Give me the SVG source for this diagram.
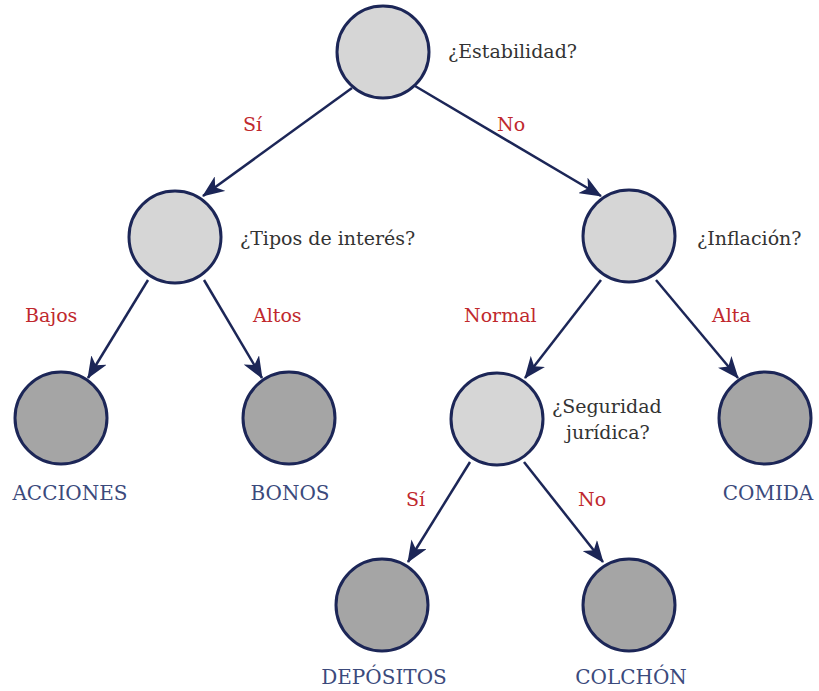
<svg xmlns="http://www.w3.org/2000/svg" width="819" height="691" viewBox="0 0 819 691">
  <style>
    .q { fill: #d6d6d6; stroke: #1c2657; stroke-width: 3; }
    .leaf { fill: #a5a5a5; stroke: #1c2657; stroke-width: 3; }
    .edge { stroke: #1c2657; stroke-width: 2.5; fill: none; marker-end: url(#ah); }
    .qt { fill: #333333; }
    .el { fill: #c0282d; }
    .lt { fill: #3b4a7c; font-size: 20px; }
  </style>
  <defs>
    <marker id="ah" viewBox="0 0 22 18" refX="21" refY="9" markerWidth="22" markerHeight="18" orient="auto" markerUnits="userSpaceOnUse">
      <path d="M0,0 L22,9 L0,18 L6,9 Z" fill="#1c2657"/>
    </marker>
  </defs>

  <g font-family="'DejaVu Serif', 'Liberation Serif', serif" font-size="19">
  <g id="connectors">
    <line class="edge" x1="352" y1="88" x2="203" y2="196"/>
    <line class="edge" x1="415" y1="86" x2="601" y2="196"/>
    <line class="edge" x1="148" y1="280" x2="88" y2="378"/>
    <line class="edge" x1="204" y1="280" x2="262" y2="378"/>
    <line class="edge" x1="601" y1="280" x2="525" y2="378"/>
    <line class="edge" x1="656" y1="280" x2="738" y2="378"/>
    <line class="edge" x1="470" y1="462" x2="408" y2="562"/>
    <line class="edge" x1="524" y1="462" x2="603" y2="562"/>
    <text class="el" x="243" y="131">Sí</text>
    <text class="el" x="497" y="131">No</text>
    <text class="el" x="25" y="322">Bajos</text>
    <text class="el" x="253" y="322">Altos</text>
    <text class="el" x="464" y="322">Normal</text>
    <text class="el" x="712" y="322">Alta</text>
    <text class="el" x="406" y="506">Sí</text>
    <text class="el" x="578" y="506">No</text>
  </g>

  <g id="estabilidad">
    <circle class="q" cx="383" cy="52" r="46"/>
    <text class="qt" x="448" y="58">¿Estabilidad?</text>
  </g>
  <g id="tipos">
    <circle class="q" cx="175" cy="237" r="46"/>
    <text class="qt" x="240" y="245">¿Tipos de interés?</text>
  </g>
  <g id="inflacion">
    <circle class="q" cx="629" cy="236" r="46"/>
    <text class="qt" x="697" y="245">¿Inflación?</text>
  </g>
  <g id="seguridad">
    <circle class="q" cx="497" cy="419" r="46"/>
    <text class="qt" x="552" y="413">¿Seguridad</text>
    <text class="qt" x="566" y="439">jurídica?</text>
  </g>
  <g id="acciones">
    <circle class="leaf" cx="61" cy="418" r="46"/>
    <text class="lt" x="70" y="500" text-anchor="middle">ACCIONES</text>
  </g>
  <g id="bonos">
    <circle class="leaf" cx="289" cy="418" r="46"/>
    <text class="lt" x="290" y="500" text-anchor="middle">BONOS</text>
  </g>
  <g id="comida">
    <circle class="leaf" cx="765" cy="418" r="46"/>
    <text class="lt" x="768" y="500" text-anchor="middle">COMIDA</text>
  </g>
  <g id="depositos">
    <circle class="leaf" cx="382" cy="605" r="46"/>
    <text class="lt" x="384" y="684" text-anchor="middle">DEPÓSITOS</text>
  </g>
  <g id="colchon">
    <circle class="leaf" cx="629" cy="605" r="46"/>
    <text class="lt" x="631" y="684" text-anchor="middle">COLCHÓN</text>
  </g>
  </g>
</svg>
